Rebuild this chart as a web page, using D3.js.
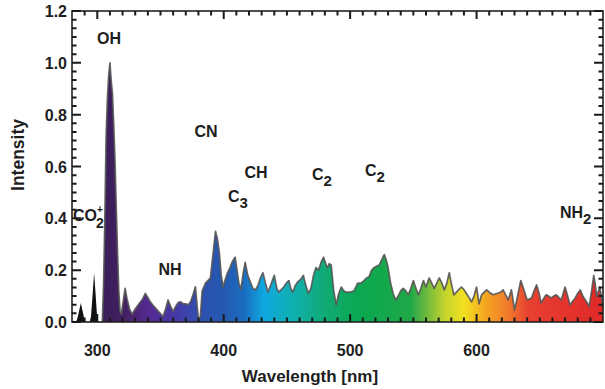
<!DOCTYPE html>
<html>
<head>
<meta charset="utf-8">
<script src="https://d3js.org/d3.v7.min.js"></script>
<style>
  html, body { margin: 0; padding: 0; background: #fff; }
  svg text { font-family: "Liberation Sans", Arial, Helvetica, sans-serif; font-weight: bold; fill: #1e1e1e; }
</style>
</head>
<body>
<svg id="chart" width="605" height="389"></svg>
<script>
// ---- data ----
const wavelength = [280,283,284,285.5,287,288.5,290,291,294,295,296.5,297.5,298.5,300,301,304,305,306,307,308,309,310,311,312,313,314,315,316,317,318,319,320.5,322,323.5,325.5,327.5,330,333,336,338,340,342,344,346,348.5,350.5,352,354,356,358,360,362,364,366,368,370,372,374,376,377.6,379,380,381.5,383,385.6,387.5,389.5,391.5,393.5,395,396.5,398,399.5,401,403,405,407,409,410.5,412,413.5,415.5,417,419,421,423,425,427,429,431,433,435,437,440,442,443.5,445.5,447.5,449.5,451.5,453,454.6,456.5,458.6,461,463,465,467,469,471,473,475,477,479,481,482,483.5,485,487,489,491,493,495,497,500,503,506,508.6,511,513,515,517,519,521,523,525,527,528.5,530,532,534,536,538,540,542,544,546,548,550,552,554,556,558,560,562.5,564.5,566.5,568.5,570.5,572.5,574.5,576.5,578.4,580,582,585,588,590,592,594,596,598,600,602,604,606,608,610,613,616,619,621,623,625,627.6,629,630,632,635,637,640,643.5,645.5,647.5,649.5,651,653,655,657,659,661,663,665,667,668.5,670,672,674,676,678,680,682,684,686,688,689,691,692.7,694,695,697.5,699,700];
const intensity = [0,0,0.01,0.04,0.073,0.04,0.005,0,0,0.02,0.12,0.19,0.12,0.01,0,0,0.15,0.4,0.72,0.86,0.95,1.0,0.93,0.88,0.76,0.62,0.44,0.27,0.12,0.04,0.03,0.08,0.13,0.09,0.05,0.03,0.05,0.07,0.09,0.11,0.095,0.077,0.065,0.054,0.04,0.03,0.02,0.05,0.085,0.06,0.04,0.06,0.075,0.078,0.07,0.07,0.066,0.08,0.11,0.136,0.06,0.01,0.02,0.12,0.15,0.16,0.17,0.26,0.35,0.32,0.27,0.18,0.135,0.16,0.19,0.21,0.235,0.25,0.2,0.15,0.125,0.19,0.23,0.18,0.155,0.13,0.124,0.14,0.17,0.19,0.15,0.115,0.14,0.18,0.13,0.115,0.125,0.135,0.15,0.16,0.13,0.115,0.14,0.155,0.165,0.18,0.14,0.11,0.13,0.18,0.21,0.2,0.23,0.25,0.22,0.21,0.225,0.22,0.12,0.066,0.11,0.135,0.12,0.115,0.115,0.12,0.15,0.15,0.16,0.17,0.175,0.2,0.21,0.215,0.22,0.24,0.26,0.24,0.21,0.15,0.11,0.085,0.1,0.12,0.13,0.12,0.105,0.13,0.16,0.13,0.105,0.13,0.16,0.135,0.17,0.15,0.13,0.15,0.17,0.15,0.124,0.15,0.19,0.15,0.105,0.12,0.135,0.125,0.11,0.095,0.078,0.1,0.135,0.07,0.105,0.115,0.124,0.115,0.105,0.11,0.115,0.124,0.105,0.085,0.124,0.08,0.046,0.09,0.16,0.13,0.085,0.093,0.12,0.143,0.11,0.073,0.09,0.105,0.1,0.093,0.1,0.105,0.095,0.085,0.11,0.135,0.1,0.066,0.08,0.093,0.11,0.124,0.1,0.085,0.07,0.058,0.12,0.18,0.14,0.097,0.135,0.09,0.054];

// spectrum colour stops (wavelength -> colour)
const colorWl  = [280, 302, 303, 320, 340, 360, 380, 400, 416, 432, 455, 482, 508, 548, 562, 575, 590, 609, 625, 641, 700];
const colorHex = ["#111111","#111111","#3a1d5a","#41205f","#552a90","#4a36a6","#2f4fb0","#2459b0","#1a6cc0","#10a8e0","#10b0b0","#10aa70","#0aa850","#20a848","#78bc3c","#c4d42c","#f2e020","#f5a020","#f07a2c","#e84030","#e02828"];

// axis ticks
const xTicks = [300, 400, 500, 600];
const yTicks = [0.0, 0.2, 0.4, 0.6, 0.8, 1.0, 1.2];

// species annotations
const labels = [
  {base:"OH",  sub:"",  wl:309.3, v:1.073, anchor:"middle"},
  {base:"CN",  sub:"",  wl:386,   v:0.714, anchor:"middle"},
  {base:"CH",  sub:"",  wl:425.5, v:0.556, anchor:"middle"},
  {base:"C",   sub:"3", wl:403.4, v:0.463, anchor:"start"},
  {base:"C",   sub:"2", wl:469.8, v:0.548, anchor:"start"},
  {base:"C",   sub:"2", wl:511.8, v:0.563, anchor:"start"},
  {base:"NH",  sub:"",  wl:357.5, v:0.181, anchor:"middle"},
  {base:"NH",  sub:"2", wl:666,   v:0.401, anchor:"start"}
];

// ---- drawing ----
const svg = d3.select("#chart");
const x = d3.scaleLinear().domain([280, 700]).range([72, 603]);
const y = d3.scaleLinear().domain([0, 1.2]).range([322, 11]);

// gradient
const defs = svg.append("defs");
const grad = defs.append("linearGradient")
  .attr("id", "spec").attr("gradientUnits", "userSpaceOnUse")
  .attr("x1", x(280)).attr("x2", x(700)).attr("y1", 0).attr("y2", 0);
colorWl.forEach((w, i) => {
  grad.append("stop").attr("offset", (w - 280) / 420).attr("stop-color", colorHex[i]);
});

const pts = wavelength.map((w, i) => [w, intensity[i]]);
const area = d3.area().x(d => x(d[0])).y0(y(0)).y1(d => y(d[1]));
const line = d3.line().x(d => x(d[0])).y(d => y(d[1]));

svg.append("path").datum(pts).attr("d", area).attr("fill", "url(#spec)");
svg.append("path").datum(pts.filter(d => d[0] >= 302)).attr("d", line)
  .attr("fill", "none").attr("stroke", "#555").attr("stroke-width", 1.7)
  .attr("stroke-linejoin", "round").attr("opacity", 0.9);

// frame
const axisColor = "#222";
svg.append("rect")
  .attr("x", x(280)).attr("y", y(1.2))
  .attr("width", x(700) - x(280)).attr("height", y(0) - y(1.2))
  .attr("fill", "none").attr("stroke", axisColor).attr("stroke-width", 1.6);

// ---- ticks on all four sides, pointing inward (IDL style), one path ----
const xMinor = d3.range(290, 701, 10).filter(v => v % 100 !== 0);
const yMinor = d3.range(0, 1.2001, 0.2 / 6).filter(v => Math.abs(v / 0.2 - Math.round(v / 0.2)) > 1e-6);
const tp = d3.path();
const xT = [...xTicks.map(v => [v, 8]), ...xMinor.map(v => [v, 4.5])];
const yT = [...yTicks.map(v => [v, 9]), ...yMinor.map(v => [v, 4.5])];
xT.forEach(([v, len]) => {
  tp.moveTo(x(v), y(0)); tp.lineTo(x(v), y(0) - len);
  tp.moveTo(x(v), y(1.2)); tp.lineTo(x(v), y(1.2) + len);
});
yT.forEach(([v, len]) => {
  tp.moveTo(x(280), y(v)); tp.lineTo(x(280) + len, y(v));
  tp.moveTo(x(700), y(v)); tp.lineTo(x(700) - len, y(v));
});
svg.append("path").attr("d", tp.toString())
  .attr("fill", "none").attr("stroke", "#1a1a1a").attr("stroke-width", 2);

// tick labels
svg.selectAll("text.xl").data(xTicks).join("text").attr("class", "xl")
  .attr("x", d => x(d)).attr("y", y(0) + 34).attr("text-anchor", "middle")
  .attr("font-size", 16).text(d3.format("d"));
svg.selectAll("text.ylab").data(yTicks).join("text").attr("class", "ylab")
  .attr("x", x(280) - 5).attr("y", d => y(d) + 6).attr("text-anchor", "end")
  .attr("font-size", 16).text(d3.format(".1f"));

// axis titles
svg.append("text").attr("x", 310).attr("y", 382).attr("text-anchor", "middle")
  .attr("font-size", 17).text("Wavelength [nm]");
svg.append("text").attr("transform", "translate(24,155) rotate(-90)")
  .attr("text-anchor", "middle").attr("font-size", 17.5).text("Intensity");

// species labels
labels.forEach(l => {
  const t = svg.append("text").attr("x", x(l.wl)).attr("y", y(l.v))
    .attr("text-anchor", l.anchor).attr("font-size", 16);
  t.append("tspan").text(l.base);
  if (l.sub) t.append("tspan").attr("dy", 6).attr("font-size", 15).text(l.sub);
});

// CO2+ (subscript and superscript stacked)
const coX = x(280) + 1, coY = y(0.39);
svg.append("text").attr("x", coX).attr("y", coY).attr("font-size", 16).text("CO");
svg.append("text").attr("x", coX + 24).attr("y", coY - 8).attr("font-size", 10).text("+");
svg.append("text").attr("x", coX + 23).attr("y", coY + 7).attr("font-size", 14).text("2");
</script>
</body>
</html>
